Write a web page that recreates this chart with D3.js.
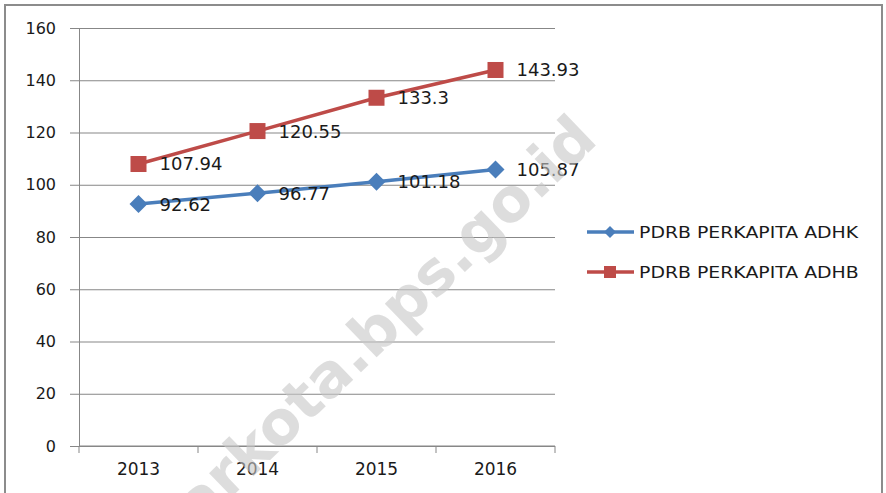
<!DOCTYPE html>
<html>
<head>
<meta charset="utf-8">
<script src="https://cdn.jsdelivr.net/npm/d3@7"></script>
<style>
  body { margin: 0; background: #fff; }
  svg { display: block; }
  text { font-family: "DejaVu Sans", sans-serif; fill: #1a1a1a; }
</style>
</head>
<body>
<svg></svg>
<script>
// data
var years = ['2013', '2014', '2015', '2016'];
var adhk = [92.62, 96.77, 101.18, 105.87];
var adhb = [107.94, 120.55, 133.3, 143.93];
var yTicks = [0, 20, 40, 60, 80, 100, 120, 140, 160];
var seriesNames = ['PDRB PERKAPITA ADHK', 'PDRB PERKAPITA ADHB'];
var watermark = 'harkota.bps.go.id';

var w = 886, h = 493,
	svg = d3.select('svg').attr('width', w).attr('height', h),
	pLeft = 79, pRight = 555, pTop = 28, pBottom = 446,
	blue = '#4a7ebb', red = '#be4b48', grid = '#878787';

// outer frame (bottom edge is cut off in the original)
svg.append('rect')
	.attr('x', 5).attr('y', 5)
	.attr('width', 877).attr('height', 520)
	.attr('fill', 'none').attr('stroke', '#8c8c8c').attr('stroke-width', 2);

var x = d3.scaleBand().domain(years).range([pLeft, pRight]).padding(0);
var y = d3.scaleLinear().domain([0, 160]).range([pBottom, pTop]);

// gridlines + y axis
var yAxis = svg.append('g')
	.attr('transform', 'translate(' + pLeft + ',0)')
	.call(d3.axisLeft(y).tickValues(yTicks).tickSize(9).tickPadding(14).tickFormat(d3.format('d')));
yAxis.select('.domain').attr('stroke', grid);
yAxis.selectAll('.tick line').attr('stroke', grid);
yAxis.selectAll('.tick').append('line')
	.attr('x1', 0).attr('x2', pRight - pLeft)
	.attr('stroke', grid);
yAxis.selectAll('text')
	.attr('font-family', '"DejaVu Sans", sans-serif')
	.attr('font-size', 16).attr('fill', '#1a1a1a');

// x axis
var xAxis = svg.append('g')
	.attr('transform', 'translate(0,' + pBottom + ')')
	.call(d3.axisBottom(x).tickSize(0).tickPadding(17));
xAxis.select('.domain').remove();
xAxis.append('line').attr('x1', pLeft).attr('x2', pRight).attr('stroke', grid);
xAxis.selectAll('text')
	.attr('font-family', '"DejaVu Sans", sans-serif')
	.attr('font-size', 17).attr('fill', '#1a1a1a');
var edges = years.map(function(d){ return x(d) }).concat([pRight]);
xAxis.selectAll('.edge')
	.data(edges)
	.enter()
	.append('line')
	.attr('class', 'edge')
	.attr('x1', function(d){ return d }).attr('x2', function(d){ return d })
	.attr('y1', 0).attr('y2', 7)
	.attr('stroke', grid);

function cx(d, i) { return x(years[i]) + x.bandwidth() / 2 }

var line = d3.line()
	.x(function(d, i){ return cx(d, i) })
	.y(function(d){ return y(d) });

function diamond(g, px, py, r) {
	g.append('path')
		.attr('d', 'M' + px + ',' + (py - r) + 'L' + (px + r) + ',' + py + 'L' + px + ',' + (py + r) + 'L' + (px - r) + ',' + py + 'Z')
		.attr('fill', blue);
}
function square(g, px, py, s) {
	g.append('rect')
		.attr('x', px - s / 2).attr('y', py - s / 2)
		.attr('width', s).attr('height', s)
		.attr('fill', red);
}

function drawSeries(vals, color, marker) {
	var g = svg.append('g');
	g.append('path')
		.datum(vals)
		.attr('d', line)
		.attr('fill', 'none')
		.attr('stroke', color)
		.attr('stroke-width', 3.5);
	vals.forEach(function(v, i){
		if (marker == 'diamond') diamond(g, cx(v, i), y(v), 9);
		else square(g, cx(v, i), y(v), 16);
	});
	g.selectAll('.lbl')
		.data(vals)
		.enter()
		.append('text')
		.attr('class', 'lbl')
		.attr('x', function(d, i){ return cx(d, i) + 21 })
		.attr('y', function(d){ return y(d) })
		.attr('dy', '0.36em')
		.attr('font-size', 18)
		.text(function(d){ return d });
}

drawSeries(adhk, blue, 'diamond');
drawSeries(adhb, red, 'square');

// legend
var legend = svg.append('g');
seriesNames.forEach(function(name, i){
	var ly = 232 + i * 40,
		color = i == 0 ? blue : red;
	legend.append('line')
		.attr('x1', 587).attr('x2', 634)
		.attr('y1', ly).attr('y2', ly)
		.attr('stroke', color).attr('stroke-width', 3.5);
	if (i == 0) diamond(legend, 610, ly, 6);
	else square(legend, 610, ly, 12);
	legend.append('text')
		.attr('transform', 'translate(639,' + ly + ') scale(1.18,1)')
		.attr('dy', '0.36em')
		.attr('font-size', 16)
		.text(name);
});

// watermark
svg.append('text')
	.attr('transform', 'translate(384,350) rotate(-44)')
	.attr('text-anchor', 'middle')
	.attr('font-family', '"Liberation Sans", Arial, sans-serif')
	.attr('font-weight', 'bold')
	.attr('font-size', 60)
	.style('fill', '#c8c8c8')
	.attr('opacity', 0.6)
	.text(watermark);
</script>
</body>
</html>
